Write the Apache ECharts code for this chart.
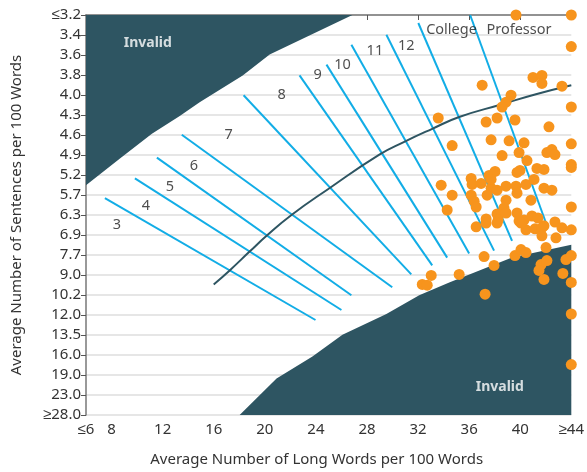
<!DOCTYPE html>
<html>
<head>
<meta charset="utf-8">
<script src="https://cdn.jsdelivr.net/npm/echarts@6/dist/echarts.min.js"></script>
<style>
  html, body { margin: 0; padding: 0; background: #fff; }
  #chart { width: 587px; height: 472px; }
</style>
</head>
<body>
<div id="chart"></div>
<script>
let chart = echarts.init(document.getElementById('chart'));

// y axis: tick labels are evenly spaced, values are tick positions (0 = top)
let yLabels = ['≤3.2', '3.4', '3.6', '3.8', '4.0', '4.3', '4.6', '4.9', '5.2', '5.7', '6.3',
    '6.9', '7.7', '9.0', '10.2', '12.0', '13.5', '16.0', '19.0', '23.0', '≥28.0'];
let xTicks = [6, 8, 12, 16, 20, 24, 28, 32, 36, 40, 44];

// invalid regions (outline points)
let invalidTop = [[6, 0], [26.86, 0], [20.38, 1.98], [18.27, 3.02], [14.9, 4.36], [13.34, 5.05],
    [11.16, 5.94], [8.66, 7.18], [6, 8.51]];
let invalidBottom = [[18.03, 20], [20.92, 18.17], [23.73, 17.08], [26.08, 15.99], [29.52, 14.95],
    [32.09, 14.01], [34.44, 13.37], [39.36, 12.13], [44, 11.49], [44, 20]];

// grade boundary lines [x1, y1, x2, y2]
let gradeLines = [
    [7.48, 9.16, 23.97, 15.25],
    [9.83, 8.17, 26.0, 14.75],
    [11.55, 7.13, 26.78, 14.01],
    [13.5, 5.99, 29.98, 13.61],
    [18.34, 4.01, 31.47, 12.97],
    [22.72, 3.02, 33.11, 12.52],
    [24.83, 2.48, 34.28, 12.13],
    [26.78, 1.49, 36.0, 11.93],
    [29.52, 0.99, 37.95, 11.78],
    [32.02, 0.40, 39.36, 11.29],
    [36.08, 0, 42.02, 10.40]
];

// average curve
let curve = [[16.0, 13.47], [17.25, 12.77], [18.81, 11.83], [20.14, 11.04], [22.09, 10.0],
    [25.06, 8.66], [28.97, 6.98], [30.92, 6.34], [33.11, 5.69], [35.22, 5.10], [38.58, 4.46],
    [41.23, 3.96], [44, 3.51]];

// grade labels
let gradeNames = ['3', '4', '5', '6', '7', '8', '9', '10', '11', '12', 'College', 'Professor'];
let gradePos = [[8.42, 10.5], [10.69, 9.55], [12.56, 8.6], [14.44, 7.52], [17.17, 5.99],
    [21.31, 4.01], [24.13, 3.0], [26.08, 2.48], [28.62, 1.8], [31.08, 1.56], [34.62, 0.74], [39.9, 0.74]];

// articles
let articles = [
    [39.67, 0], [44, 0], [44, 1.58], [37.02, 3.51], [41.0, 3.12], [41.7, 3.02], [41.7, 3.42],
    [43.27, 3.56], [39.28, 4.01], [38.89, 4.36], [38.58, 4.6], [44, 4.6], [33.58, 5.15],
    [37.33, 5.35], [38.19, 5.15], [39.59, 5.25], [42.25, 5.59], [34.67, 6.53], [37.72, 6.24],
    [39.13, 6.29], [40.3, 6.39], [38.58, 7.03], [39.91, 6.88], [40.53, 7.28], [42.09, 6.88],
    [42.48, 6.73], [42.72, 6.98], [44, 6.44], [44, 7.48], [44, 7.62], [41.31, 7.67], [41.86, 7.72],
    [33.81, 8.51], [34.67, 9.01], [34.28, 9.75], [36.16, 8.17], [36.23, 8.47], [36.94, 8.42],
    [37.56, 8.02], [38.03, 7.82], [37.72, 8.66], [38.19, 8.76], [38.89, 8.56], [39.75, 7.87],
    [39.98, 7.77], [39.67, 8.56], [39.75, 8.91], [40.45, 8.47], [41.08, 8.22], [41.86, 8.66],
    [42.48, 8.76], [36.16, 9.01], [36.39, 9.31], [36.55, 9.6], [37.41, 9.01], [38.89, 9.26],
    [38.73, 9.65], [40.84, 9.26], [38.19, 9.95], [38.27, 10.25], [38.89, 9.9], [39.75, 9.9],
    [40.3, 10.25], [40.92, 10.05], [41.39, 10.15], [41.86, 10.54], [37.33, 10.2], [36.55, 10.59],
    [40.45, 10.74], [41.16, 10.69], [42.72, 10.35], [43.27, 10.64], [44, 9.6], [44, 10.74],
    [39.91, 10.3], [37.33, 10.4], [38.19, 10.4], [40.06, 10.4], [41.7, 10.64], [41.7, 11.04],
    [42.02, 11.63], [42.8, 11.14], [37.17, 12.08], [37.95, 12.52], [39.59, 12.03], [40.06, 11.73],
    [40.45, 11.88], [41.63, 12.48], [42.09, 12.28], [41.47, 12.77], [41.86, 13.22], [43.58, 12.23],
    [44, 12.03], [43.34, 12.92], [44, 13.37], [33.03, 13.02], [32.33, 13.47], [32.72, 13.51],
    [35.22, 12.97], [37.25, 13.96], [44, 14.95], [44, 17.48], [37.72, 8.22]
];

let darkTeal = '#2e5562';
let blue = '#12ade6';
let orange = '#f7941d';
let fontFamily = '"Noto Sans", sans-serif';

function polygon_series(points) {
    return {
        type: 'custom',
        coordinateSystem: 'cartesian2d',
        data: [points[0]],
        silent: true,
        z: 1,
        renderItem: function (params, api) {
            return {
                type: 'polygon',
                shape: {points: points.map(p => api.coord(p))},
                style: {fill: darkTeal}
            };
        }
    };
}

let series = [polygon_series(invalidTop), polygon_series(invalidBottom)];

gradeLines.forEach(l => {
    series.push({
        type: 'line',
        data: [[l[0], l[1]], [l[2], l[3]]],
        symbol: 'none',
        lineStyle: {color: blue, width: 2},
        z: 2
    });
});

series.push({
    type: 'line',
    data: curve,
    smooth: true,
    symbol: 'none',
    lineStyle: {color: darkTeal, width: 2},
    z: 3
});

series.push({
    type: 'scatter',
    data: gradeNames.map((n, i) => ({name: n, value: gradePos[i]})),
    symbolSize: 1,
    itemStyle: {color: 'rgba(0,0,0,0)'},
    label: {
        show: true,
        position: 'inside',
        formatter: '{b}',
        color: '#222',
        fontSize: 14.5,
        fontFamily: fontFamily
    },
    z: 4
});

series.push({
    type: 'scatter',
    data: [{name: 'Invalid', value: [10.84, 1.39]}, {name: 'Invalid', value: [38.4, 18.6]}],
    symbolSize: 1,
    itemStyle: {color: 'rgba(0,0,0,0)'},
    label: {
        show: true,
        position: 'inside',
        formatter: '{b}',
        color: '#fff',
        fontSize: 14,
        fontWeight: 'bold',
        fontFamily: fontFamily
    },
    z: 4
});

series.push({
    type: 'scatter',
    data: articles,
    symbolSize: 11,
    itemStyle: {color: orange, opacity: 1},
    z: 5
});

let option = {
    animation: false,
    grid: {left: 86, right: 15, top: 15, bottom: 53},
    xAxis: {
        type: 'value',
        min: 6,
        max: 44,
        name: 'Average Number of Long Words per 100 Words',
        nameLocation: 'middle',
        nameGap: 37,
        nameTextStyle: {color: '#333', fontSize: 15, fontFamily: fontFamily, padding: [0, 24, 0, 0]},
        axisLine: {show: true, lineStyle: {color: '#777', width: 1.5}},
        axisTick: {show: true, customValues: xTicks, length: 5, lineStyle: {color: '#555'}},
        axisLabel: {
            customValues: xTicks,
            color: '#333',
            fontSize: 15,
            fontFamily: fontFamily,
            margin: 7,
            formatter: v => v === 6 ? '≤6' : (v === 44 ? '≥44' : String(v))
        },
        splitLine: {show: false}
    },
    yAxis: {
        type: 'value',
        min: 0,
        max: 20,
        interval: 1,
        inverse: true,
        name: 'Average Number of Sentences per 100 Words',
        nameLocation: 'middle',
        nameGap: 62,
        nameTextStyle: {color: '#333', fontSize: 15, fontFamily: fontFamily},
        axisLine: {show: true, lineStyle: {color: '#777', width: 1.5}},
        axisTick: {show: true, length: 5, lineStyle: {color: '#555'}},
        axisLabel: {
            color: '#333',
            fontSize: 15,
            fontFamily: fontFamily,
            margin: 5,
            formatter: v => yLabels[Math.round(v)]
        },
        splitLine: {show: true, lineStyle: {color: '#dedede', width: 1.5}}
    },
    series: series
};

chart.setOption(option);
</script>
</body>
</html>
